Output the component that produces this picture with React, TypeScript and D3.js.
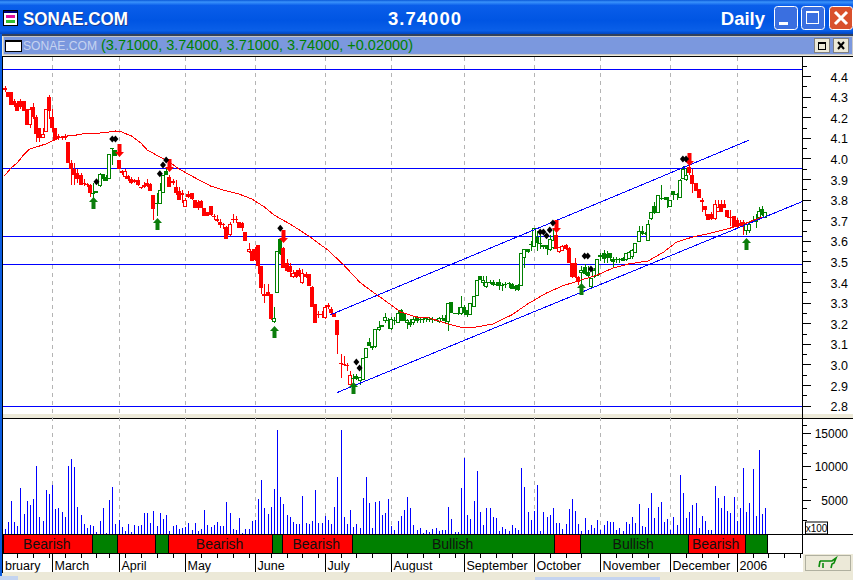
import React from "react";
import * as d3 from "d3";

const opens = [
4.33,4.32,4.32,4.28,4.27,4.28,4.28,4.24,4.16,4.25,
4.20,4.15,4.10,4.13,4.30,4.20,4.15,4.11,4.105,4.11,
4.08,3.98,3.95,3.93,3.92,3.88,3.875,3.87,3.83,3.83,
3.865,3.925,3.91,3.90,4.05,4.04,3.99,3.93,3.91,3.915,
3.90,3.895,3.895,3.86,3.87,3.88,3.875,3.82,3.785,3.78,
3.83,3.94,3.91,3.89,3.86,3.84,3.83,3.765,3.825,3.83,
3.80,3.79,3.795,3.76,3.74,3.77,3.72,3.697,3.69,3.68,
3.668,3.63,3.705,3.705,3.69,3.685,3.645,3.547,3.55,3.56,
3.58,3.48,3.33,3.35,3.34,3.205,3.347,3.61,3.565,3.49,
3.48,3.425,3.45,3.458,3.395,3.44,3.44,3.375,3.295,3.245,
3.245,3.225,3.28,3.27,3.25,3.215,3.008,3.00,2.995,2.90,
2.935,2.945,2.92,2.925,3.03,3.11,3.078,3.083,3.166,3.18,
3.21,3.215,3.17,3.215,3.20,3.266,3.25,3.20,3.207,3.20,
3.23,3.22,3.22,3.223,3.22,3.22,3.215,3.207,3.225,3.224,
3.207,3.305,3.25,3.25,3.247,3.277,3.264,3.24,3.277,3.33,
3.43,3.395,3.377,3.40,3.40,3.39,3.40,3.385,3.39,3.395,
3.39,3.38,3.385,3.38,3.515,3.56,3.585,3.57,3.62,3.59,
3.58,3.58,3.556,3.565,3.63,3.548,3.55,3.58,3.563,3.49,
3.49,3.426,3.445,3.475,3.45,3.374,3.423,3.43,3.52,3.54,
3.535,3.54,3.51,3.51,3.51,3.515,3.505,3.51,3.52,3.54,
3.595,3.65,3.64,3.60,3.705,3.768,3.737,3.81,3.81,3.813,
3.765,3.84,3.825,3.81,3.90,3.897,3.96,3.92,3.88,3.85,
3.80,3.768,3.73,3.73,3.705,3.74,3.78,3.778,3.75,3.716,
3.72,3.70,3.687,3.69,3.65,3.65,3.70,3.69,3.71,3.755,
3.71];
const highs = [
4.35,4.32,4.32,4.29,4.28,4.29,4.28,4.24,4.25,4.27,
4.21,4.15,4.15,4.24,4.31,4.24,4.15,4.12,4.11,4.12,
4.08,3.99,3.98,3.95,3.93,3.90,3.88,3.875,3.88,3.84,
3.93,3.925,3.92,4.02,4.05,4.04,3.99,3.945,3.95,3.92,
3.91,3.90,3.91,3.86,3.885,3.90,3.88,3.82,3.83,3.88,
3.92,3.96,3.92,3.90,3.895,3.86,3.845,3.81,3.84,3.83,
3.80,3.80,3.80,3.76,3.74,3.77,3.73,3.725,3.705,3.685,
3.67,3.69,3.73,3.72,3.69,3.69,3.645,3.59,3.56,3.57,
3.58,3.48,3.39,3.39,3.34,3.28,3.55,3.61,3.57,3.51,
3.49,3.46,3.46,3.47,3.465,3.45,3.44,3.38,3.295,3.26,
3.26,3.29,3.30,3.28,3.25,3.215,3.05,3.04,3.005,2.97,
2.955,2.955,2.94,3.03,3.08,3.13,3.09,3.17,3.21,3.19,
3.25,3.225,3.23,3.23,3.26,3.27,3.25,3.22,3.22,3.23,
3.235,3.23,3.23,3.23,3.23,3.23,3.22,3.23,3.24,3.24,
3.30,3.305,3.25,3.28,3.33,3.29,3.265,3.30,3.33,3.41,
3.43,3.43,3.43,3.41,3.41,3.40,3.415,3.395,3.40,3.40,
3.395,3.385,3.39,3.54,3.56,3.56,3.60,3.66,3.65,3.63,
3.58,3.58,3.63,3.66,3.67,3.57,3.58,3.585,3.57,3.49,
3.515,3.43,3.48,3.485,3.48,3.42,3.47,3.51,3.54,3.555,
3.55,3.54,3.52,3.52,3.515,3.52,3.54,3.55,3.56,3.59,
3.67,3.67,3.645,3.70,3.74,3.79,3.82,3.87,3.815,3.815,
3.80,3.84,3.83,3.90,3.965,3.955,3.97,3.95,3.88,3.85,
3.81,3.77,3.73,3.74,3.80,3.80,3.80,3.80,3.75,3.75,
3.72,3.71,3.70,3.70,3.69,3.695,3.72,3.73,3.765,3.77,
3.74];
const lows = [
4.32,4.30,4.26,4.25,4.23,4.24,4.23,4.16,4.15,4.19,
4.08,4.08,4.10,4.13,4.19,4.13,4.09,4.09,4.09,4.09,
3.98,3.87,3.87,3.88,3.87,3.865,3.86,3.815,3.81,3.83,
3.86,3.89,3.89,3.90,3.97,4.01,3.95,3.92,3.90,3.89,
3.875,3.88,3.865,3.85,3.855,3.86,3.84,3.70,3.72,3.78,
3.83,3.92,3.86,3.87,3.82,3.80,3.785,3.765,3.81,3.80,
3.76,3.75,3.76,3.72,3.72,3.72,3.70,3.69,3.66,3.655,
3.61,3.625,3.685,3.685,3.66,3.65,3.60,3.54,3.50,3.50,
3.44,3.34,3.30,3.33,3.215,3.20,3.347,3.53,3.47,3.45,
3.425,3.42,3.42,3.425,3.39,3.42,3.38,3.28,3.20,3.225,
3.225,3.22,3.27,3.24,3.23,3.05,2.936,2.99,2.97,2.90,
2.90,2.925,2.90,2.925,3.03,3.09,3.07,3.08,3.16,3.18,
3.20,3.17,3.165,3.19,3.20,3.21,3.21,3.17,3.18,3.19,
3.20,3.20,3.20,3.205,3.205,3.20,3.21,3.20,3.21,3.20,
3.16,3.25,3.25,3.24,3.24,3.24,3.23,3.24,3.277,3.33,
3.41,3.38,3.37,3.39,3.38,3.38,3.36,3.355,3.37,3.37,
3.365,3.355,3.355,3.38,3.47,3.54,3.55,3.57,3.55,3.56,
3.56,3.53,3.55,3.56,3.56,3.54,3.55,3.555,3.49,3.42,
3.42,3.385,3.385,3.435,3.42,3.37,3.42,3.43,3.50,3.49,
3.49,3.50,3.47,3.49,3.49,3.50,3.50,3.51,3.51,3.54,
3.595,3.63,3.63,3.60,3.70,3.73,3.737,3.80,3.80,3.76,
3.765,3.80,3.80,3.81,3.90,3.89,3.92,3.83,3.84,3.81,
3.74,3.72,3.70,3.70,3.70,3.74,3.74,3.76,3.71,3.67,
3.665,3.66,3.665,3.63,3.63,3.64,3.69,3.66,3.70,3.72,
3.71];
const closes = [
4.34,4.30,4.26,4.26,4.23,4.25,4.23,4.16,4.24,4.20,
4.12,4.10,4.12,4.24,4.23,4.15,4.09,4.10,4.10,4.10,
3.98,3.95,3.92,3.90,3.87,3.88,3.87,3.83,3.83,3.84,
3.925,3.90,3.89,4.02,4.05,4.01,3.95,3.94,3.94,3.90,
3.88,3.885,3.87,3.855,3.86,3.865,3.84,3.755,3.785,3.845,
3.92,3.92,3.86,3.88,3.83,3.80,3.82,3.80,3.815,3.805,
3.76,3.76,3.76,3.72,3.72,3.725,3.715,3.708,3.675,3.675,
3.61,3.68,3.705,3.70,3.66,3.66,3.60,3.558,3.50,3.505,
3.48,3.37,3.34,3.33,3.22,3.225,3.55,3.535,3.47,3.455,
3.45,3.445,3.425,3.43,3.445,3.425,3.38,3.28,3.20,3.24,
3.245,3.28,3.29,3.25,3.23,3.145,3.008,2.995,2.995,2.95,
2.935,2.93,2.94,3.03,3.078,3.09,3.09,3.17,3.18,3.19,
3.23,3.21,3.22,3.21,3.25,3.21,3.21,3.215,3.19,3.22,
3.21,3.215,3.22,3.22,3.215,3.215,3.21,3.224,3.22,3.21,
3.296,3.25,3.25,3.245,3.277,3.25,3.24,3.30,3.33,3.41,
3.41,3.41,3.40,3.395,3.385,3.39,3.38,3.385,3.385,3.39,
3.365,3.365,3.36,3.54,3.56,3.547,3.58,3.66,3.59,3.59,
3.57,3.56,3.61,3.605,3.56,3.568,3.575,3.56,3.49,3.423,
3.423,3.40,3.458,3.44,3.43,3.42,3.458,3.51,3.53,3.51,
3.515,3.515,3.495,3.505,3.505,3.50,3.54,3.548,3.555,3.59,
3.65,3.635,3.635,3.68,3.74,3.735,3.82,3.81,3.81,3.797,
3.80,3.82,3.825,3.897,3.95,3.92,3.93,3.875,3.84,3.81,
3.79,3.748,3.70,3.705,3.78,3.765,3.74,3.76,3.716,3.71,
3.665,3.665,3.675,3.665,3.68,3.68,3.695,3.705,3.745,3.725,
3.74];
const volumes = [
690,1720,4880,1720,1180,6800,2960,4880,4290,5170,
10050,2510,1920,6500,5910,7240,3700,3840,3250,2510,
10050,11080,9900,3990,2810,1480,890,1330,1180,300,
1920,3840,150,5020,6950,1480,2070,1030,440,1480,
300,1330,1180,1330,3100,3100,1630,3400,1180,3100,
2220,2810,440,1180,1330,740,890,1030,1630,590,
1630,440,740,3550,1330,1030,1330,1770,1180,1180,
4730,3100,740,590,2360,150,740,740,1920,2070,
5170,7980,3840,2960,3990,6650,15370,5470,4430,2810,
2510,1770,1480,1480,5620,1630,1480,1920,6500,1630,
1630,2660,2070,1480,3990,8420,15370,2510,1480,3550,
1030,1480,890,5320,8420,4580,890,4730,4880,2810,
3100,5170,1180,590,1920,2660,3550,5470,3840,1330,
590,890,100,590,300,
740,890,440,590,590,3990,2220,300,300,6800,
11230,2810,2220,4880,9310,3250,1330,3840,3840,2510,
2360,440,1030,740,440,1330,890,590,9750,6950,
3250,2070,3400,7240,440,3250,2510,2810,3840,1630,
1630,740,1480,3700,5170,3400,1480,440,2360,590,
1330,890,2070,590,1330,1920,1770,1770,590,890,
440,1770,1480,2510,1630,4430,1180,1030,3840,6060,
2360,3990,4730,1770,2220,590,2510,1330,8720,6060,
2360,3250,4290,4580,890,2660,1920,590,590,7090,
5320,3840,5620,3400,3100,5470,1920,3840,9750,3250,
4580,9600,2660,12410,2960,3840];

const maIndex = [0,2,4,6,8,11,13,15,18,20,23,26,30,33,35,37,40,43,45,49,52,55,59,65,70,74,78,82,85,90,94,96,102,107,112,114,118,122,125,130,134,140,145,149,154,160,165,171,176,182,187,192,197,203,208,212,217,223,229,234,239];
const maValue = [3.915,3.953,3.978,4.017,4.046,4.06,4.07,4.084,4.104,4.109,4.114,4.123,4.123,4.128,4.133,4.128,4.109,4.075,4.041,4.007,3.983,3.949,3.915,3.866,3.842,3.827,3.803,3.764,3.725,3.682,3.643,3.623,3.555,3.483,3.40,3.376,3.332,3.288,3.254,3.23,3.225,3.196,3.177,3.182,3.196,3.24,3.293,3.347,3.381,3.41,3.434,3.468,3.488,3.502,3.546,3.594,3.618,3.638,3.662,3.686,3.716];

const bullishStart = [28,48,85,110,182,234];
const bullishEnd = [35,51,87,173,215,240];
const bandStart = [0,28,36,48,52,85,88,110,174,182,216,234];
const bandEnd = [27,35,47,51,84,87,109,173,181,215,233,240];
const bandLabels = ["Bearish","","","","Bearish","","Bearish","Bullish","","Bullish","Bearish",""];

const levels = [4.432,3.951,3.621,3.487,2.80];
const upperTrendIndex = [102.7,234.9];
const upperTrendValue = [3.24,4.089];
const lowerTrendIndex = [104.9,251.6];
const lowerTrendValue = [2.863,3.79];

const buyIndex = [28,48,85,110,182,234];
const buyValue = [3.813,3.711,3.186,2.915,3.395,3.614];
const sellIndex = [36,52,88,174,216];
const sellValue = [4.007,3.934,3.589,3.638,3.963];
const markerIndex = [29,34,35,49,50,51,87,111,112,169,170,171,172,173,183,184,185,214,215];
const markerValue = [3.887,4.094,4.094,3.926,3.968,3.992,3.661,3.012,2.983,3.643,3.643,3.625,3.652,3.686,3.526,3.526,3.463,3.997,3.997];

const monthLabels = ["March","April","May","June","July","August","September","October","November","December","2006"];
const monthIndex = [15,36,57,79,101,122,145,167,188,210,231];
const weekIndex = [4,9,14,19,24,29,33,38,43,48,53,62,67,72,77,84,89,94,99,106,111,116,127,132,137,142,150,155,160,172,177,182,193,198,203,215,220,225,236,241,246,251];
const priceTicks = [4.4,4.3,4.2,4.1,4.0,3.9,3.8,3.7,3.6,3.5,3.4,3.3,3.2,3.1,3.0,2.9,2.8];
const priceMinorTicks = [4.45,4.35,4.25,4.15,4.05,3.95,3.85,3.75,3.65,3.55,3.45,3.35,3.25,3.15,3.05,2.95,2.85];
const volumeTicks = [5000,10000,15000];
const volumeMinorTicks = [2000,3900,7000,8200,12000,13200,16200];

const W = 853, H = 580;
const axisX = 802.5;
const xs = d3.scaleLinear().domain([0, 240]).range([4.5, 765.3]);
const yP = d3.scaleLinear().domain([2.8, 4.4]).range([405.6, 76]);
const yV = d3.scaleLinear().domain([0, 15000]).range([534, 432.7]);
const px = (i: number) => Math.round(xs(i)) + 0.5;
const snap = (v: number) => Math.round(v) + 0.5;
const isBull = (i: number) => bullishStart.some((s, k) => i >= s && i <= bullishEnd[k]);
const maLine = d3.line<number>().x((_, k) => xs(maIndex[k])).y((_, k) => yP(maValue[k]));

const RED = "#ff0000", GREEN = "#008000", BLUE = "#0000ff";
const SANS = "'Liberation Sans', Arial, sans-serif";

function WinButton({ x, fill, children }: { x: number; fill: string; children: React.ReactNode }) {
  return (
    <g transform={`translate(${x},6)`}>
      <rect x={0.5} y={0.5} width={23} height={23} rx={3} fill={fill} stroke="#ffffff" />
      {children}
    </g>
  );
}

export default function App() {
  return (
    <svg width={W} height={H} viewBox={`0 0 ${W} ${H}`} style={{ position: "fixed", left: 0, top: 0, background: "#ece9d8" }} fontFamily={SANS}>
      <defs>
        <linearGradient id="title" x1="0" y1="0" x2="0" y2="1">
          <stop offset="0" stopColor="#0a58d8" />
          <stop offset="0.06" stopColor="#3a93fb" />
          <stop offset="0.16" stopColor="#0a5eea" />
          <stop offset="0.6" stopColor="#0055e3" />
          <stop offset="0.9" stopColor="#0a5fe8" />
          <stop offset="1" stopColor="#0044c0" />
        </linearGradient>
      </defs>

      {/* window chrome */}
      <rect x={0} y={0} width={W} height={34} fill="url(#title)" />
      <rect x={0} y={34} width={W} height={2} fill="#33415c" />
      <rect x={0} y={34} width={2} height={H - 34} fill="#0a5ce0" />
      <g>
        <rect x={3.5} y={10.5} width={14} height={15} fill="#ffffff" stroke="#000" />
        <rect x={4} y={11} width={13} height={2} fill="#000080" />
        <rect x={6} y={15} width={9} height={3} fill="#e010a0" />
        <rect x={6} y={20} width={9} height={3} fill="#30c030" />
      </g>
      <text x={24} y={26} fontSize={18.5} fontWeight={700} fill="#1a3a90" textLength={105} lengthAdjust="spacingAndGlyphs">SONAE.COM</text>
      <text x={23} y={25} fontSize={18.5} fontWeight={700} fill="#ffffff" textLength={105} lengthAdjust="spacingAndGlyphs">SONAE.COM</text>
      <text x={388} y={25} fontSize={18.5} fontWeight={700} fill="#ffffff" textLength={73} lengthAdjust="spacing">3.74000</text>
      <text x={765} y={25} fontSize={18.5} fontWeight={700} fill="#ffffff" textAnchor="end">Daily</text>
      <WinButton x={774} fill="#3a6fe0">
        <rect x={5} y={16} width={9} height={3} fill="#fff" />
      </WinButton>
      <WinButton x={801} fill="#3a6fe0">
        <rect x={5.5} y={5.5} width={12} height={12} fill="none" stroke="#fff" />
        <rect x={5} y={5} width={13} height={2} fill="#fff" />
      </WinButton>
      <WinButton x={829} fill="#d9502c">
        <path d="M6,6 L18,18 M18,6 L6,18" stroke="#fff" strokeWidth={3} />
      </WinButton>

      {/* child title bar */}
      <rect x={3} y={36} width={W - 3} height={19} fill="#7b98de" />
      <rect x={3.5} y={36.5} width={W - 4} height={18} fill="none" stroke="#c8c8c8" />
      <rect x={5.5} y={40.5} width={16} height={11} fill="#ffffff" stroke="#000" />
      <rect x={5} y={40} width={17} height={2} fill="#000" />
      <text x={23} y={50} fontSize={13} fill="#c6d3f0" textLength={74} lengthAdjust="spacingAndGlyphs">SONAE.COM</text>
      <text x={101} y={50} fontSize={14.5} fill={GREEN} textLength={312} lengthAdjust="spacing">(3.71000, 3.74000, 3.71000, 3.74000, +0.02000)</text>
      <g>
        <rect x={814.5} y={38.5} width={15} height={14} fill="#ece9d8" stroke="#808080" />
        <rect x={818.5} y={42.5} width={7} height={7} fill="none" stroke="#000" />
        <rect x={818} y={42} width={8} height={2} fill="#000" />
        <rect x={833.5} y={38.5} width={15} height={14} fill="#ece9d8" stroke="#808080" />
        <path d="M838,42 L844,49 M844,42 L838,49" stroke="#000" strokeWidth={2} />
      </g>

      {/* panels */}
      <rect x={3} y={56} width={W - 3} height={358} fill="#ffffff" />
      <rect x={3} y={418} width={W - 3} height={116} fill="#ffffff" />
      <rect x={3} y={414} width={W - 3} height={4} fill="#ece9d8" />
      <line x1={3} x2={W} y1={56.5} y2={56.5} stroke="#000" />
      <line x1={3} x2={W} y1={418.5} y2={418.5} stroke="#000" />
      <line x1={2.5} x2={2.5} y1={56} y2={573} stroke="#000" />

      {/* month gridlines */}
      {monthIndex.map((m) => (
        <line key={m} x1={px(m)} x2={px(m)} y1={57} y2={534} stroke="#b4b4b4" strokeDasharray="4 4" />
      ))}

      {/* horizontal levels */}
      {levels.map((v) => (
        <line key={v} x1={3} x2={axisX} y1={snap(yP(v))} y2={snap(yP(v))} stroke={BLUE} />
      ))}

      {/* candlesticks */}
      <g shapeRendering="crispEdges">
        {opens.map((o, i) => {
          const c = closes[i];
          const col = isBull(i) ? GREEN : RED;
          const x = px(i);
          const top = Math.round(yP(Math.max(o, c)));
          const bot = Math.round(yP(Math.min(o, c)));
          const hollow = c > o;
          return (
            <g key={i}>
              <line x1={x} x2={x} y1={yP(highs[i])} y2={yP(lows[i])} stroke={col} />
              {bot - top < 2 ? (
                <rect x={x - 2.5} y={top} width={4} height={Math.max(1, bot - top)} fill={col} />
              ) : (
                <rect x={x - 2} y={top + 0.5} width={3} height={bot - top - 1} fill={hollow ? "#ffffff" : col} stroke={col} />
              )}
            </g>
          );
        })}
      </g>

      {/* moving average */}
      <path d={maLine(maValue) ?? ""} fill="none" stroke={RED} strokeWidth={1} shapeRendering="crispEdges" />

      {/* trend channel */}
      <g shapeRendering="crispEdges">
        <line x1={xs(upperTrendIndex[0])} x2={xs(upperTrendIndex[1])} y1={yP(upperTrendValue[0])} y2={yP(upperTrendValue[1])} stroke={BLUE} />
        <line x1={xs(lowerTrendIndex[0])} x2={xs(lowerTrendIndex[1])} y1={yP(lowerTrendValue[0])} y2={yP(lowerTrendValue[1])} stroke={BLUE} />
      </g>

      {/* signals */}
      {buyIndex.map((b, k) => {
        const x = px(b), y = yP(buyValue[k]);
        return <path key={b} fill="#0b7d0b" d={`M${x},${y} L${x + 4.5},${y + 5} L${x + 2},${y + 5} L${x + 2},${y + 12} L${x - 2},${y + 12} L${x - 2},${y + 5} L${x - 4.5},${y + 5} Z`} />;
      })}
      {sellIndex.map((s, k) => {
        const x = px(s), y = yP(sellValue[k]);
        return <path key={s} fill={RED} d={`M${x},${y} L${x + 4.5},${y - 5} L${x + 2},${y - 5} L${x + 2},${y - 13} L${x - 2},${y - 13} L${x - 2},${y - 5} L${x - 4.5},${y - 5} Z`} />;
      })}
      {markerIndex.map((m, k) => {
        const x = xs(m), y = yP(markerValue[k]);
        return <path key={m} fill="#000" d={`M${x},${y - 3.5} L${x + 3},${y} L${x},${y + 3.5} L${x - 3},${y} Z`} />;
      })}

      {/* volume */}
      <g shapeRendering="crispEdges">
        {volumes.map((v, i) => (
          <line key={i} x1={px(i)} x2={px(i)} y1={534} y2={yV(v)} stroke="#0000ff" />
        ))}
      </g>

      {/* axis */}
      <line x1={axisX} x2={axisX} y1={56} y2={534} stroke="#000" />
      <g shapeRendering="crispEdges">
        {priceTicks.map((t) => (
          <g key={t}>
            <line x1={axisX} x2={811} y1={snap(yP(t))} y2={snap(yP(t))} stroke="#000" />
            <text x={848} y={yP(t) + 5.5} fontSize={12.5} textAnchor="end" fill="#000">{t.toFixed(1)}</text>
          </g>
        ))}
        {priceMinorTicks.map((t) => (
          <line key={t} x1={axisX} x2={807} y1={snap(yP(t))} y2={snap(yP(t))} stroke="#000" />
        ))}
        {volumeTicks.map((t) => (
          <g key={t}>
            <line x1={axisX} x2={811} y1={snap(yV(t))} y2={snap(yV(t))} stroke="#000" />
            <text x={848} y={yV(t) + 5} fontSize={12} textAnchor="end" fill="#000">{t}</text>
          </g>
        ))}
        {volumeMinorTicks.map((t) => (
          <line key={t} x1={axisX} x2={807} y1={snap(yV(t))} y2={snap(yV(t))} stroke="#000" />
        ))}
      </g>
      <rect x={805.5} y={522} width={22} height={12} fill="#fff" stroke="#000" />
      <text x={816.5} y={532} fontSize={10} textAnchor="middle" fill="#000">x100</text>

      {/* state band */}
      <rect x={3} y={534} width={W - 3} height={20} fill="#ffffff" />
      {bandStart.map((s, k) => {
        const e = bandEnd[k];
        const x0 = k === 0 ? 3 : xs(s - 0.5);
        const x1 = xs(e + 0.5);
        return (
          <g key={s}>
            <rect x={snap(x0)} y={534.5} width={Math.round(x1) - Math.round(x0)} height={19} fill={isBull(s) ? GREEN : RED} stroke="#000" shapeRendering="crispEdges" />
            {bandLabels[k] && (
              <text x={(x0 + x1) / 2 - 0.5} y={549} fontSize={14} textAnchor="middle" fill="#101010">{bandLabels[k]}</text>
            )}
          </g>
        );
      })}
      <line x1={3} x2={W} y1={534.5} y2={534.5} stroke="#000" shapeRendering="crispEdges" />

      {/* date row */}
      <rect x={3} y={554} width={800} height={18} fill="#fff" />
      <line x1={3} x2={axisX} y1={553.5} y2={553.5} stroke="#000" shapeRendering="crispEdges" />
      <g shapeRendering="crispEdges">
        {weekIndex.map((w) => (
          <line key={w} x1={px(w)} x2={px(w)} y1={554} y2={558} stroke="#000" />
        ))}
        {monthIndex.map((m) => (
          <line key={m} x1={px(m)} x2={px(m)} y1={554} y2={572} stroke="#000" />
        ))}
      </g>
      <g fontSize={12.5} fill="#000">
        <text x={5} y={570}>bruary</text>
        {monthLabels.map((l, k) => (
          <text key={l} x={px(monthIndex[k]) + 2} y={570}>{l}</text>
        ))}
      </g>

      {/* footer */}
      <rect x={3} y={572.5} width={W - 3} height={8} fill="#ece9d8" />
      <rect x={0} y={576} width={18} height={4} fill="#c4d4f0" />
      <rect x={535} y={577} width={125} height={3} fill="#c4d4f0" />
      <rect x={803} y={534} width={50} height={46} fill="#ece9d8" />
      <line x1={802.5} x2={W} y1={534.5} y2={534.5} stroke="#000" />
      <rect x={803} y={535} width={50} height={19} fill="#ffffff" />
      <line x1={802.5} x2={802.5} y1={534} y2={554} stroke="#000" />
      <rect x={805.5} y={555.5} width={45} height={15} fill="#ece9d8" stroke="#b0b0a0" />
      <path d="M820,561 L832,561 L836,558 L834,563 L832,564 L831,568 M823,563 L823,568 M820,561 L819,567" fill="none" stroke="#0b8a0b" strokeWidth={1.6} />
    </svg>
  );
}
